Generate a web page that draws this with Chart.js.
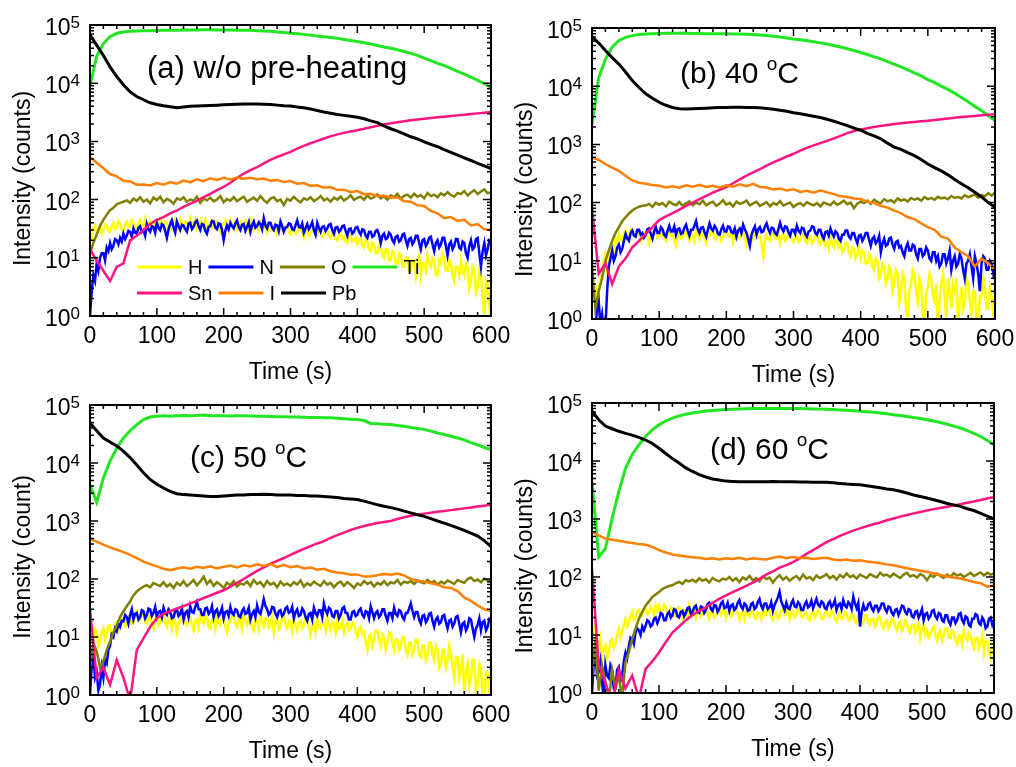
<!DOCTYPE html>
<html>
<head>
<meta charset="utf-8">
<script src="https://cdn.jsdelivr.net/npm/chart.js@4.4.1/dist/chart.umd.min.js"></script>
<style>
  body { margin: 0; background: #fff; }
  #figure { position: relative; width: 1016px; height: 767px; overflow: hidden; }
  #figure canvas { position: absolute; left: 0; top: 0; }
</style>
</head>
<body>
<div id="figure">
  <canvas id="panelA" width="1016" height="767"></canvas>
  <canvas id="panelB" width="1016" height="767"></canvas>
  <canvas id="panelC" width="1016" height="767"></canvas>
  <canvas id="panelD" width="1016" height="767"></canvas>
</div>
<script>
// sputter time grids (s)
const TIME_10 = [
  0, 10, 20, 30, 40, 50, 60, 70, 80, 90,
  100, 110, 120, 130, 140, 150, 160, 170, 180, 190,
  200, 210, 220, 230, 240, 250, 260, 270, 280, 290,
  300, 310, 320, 330, 340, 350, 360, 370, 380, 390,
  400, 410, 420, 430, 440, 450, 460, 470, 480, 490,
  500, 510, 520, 530, 540, 550, 560, 570, 580, 590,
  600
];
const TIME_5 = [
  0, 5, 10, 15, 20, 25, 30, 35, 40, 45,
  50, 55, 60, 65, 70, 75, 80, 85, 90, 95,
  100, 105, 110, 115, 120, 125, 130, 135, 140, 145,
  150, 155, 160, 165, 170, 175, 180, 185, 190, 195,
  200, 205, 210, 215, 220, 225, 230, 235, 240, 245,
  250, 255, 260, 265, 270, 275, 280, 285, 290, 295,
  300, 305, 310, 315, 320, 325, 330, 335, 340, 345,
  350, 355, 360, 365, 370, 375, 380, 385, 390, 395,
  400, 405, 410, 415, 420, 425, 430, 435, 440, 445,
  450, 455, 460, 465, 470, 475, 480, 485, 490, 495,
  500, 505, 510, 515, 520, 525, 530, 535, 540, 545,
  550, 555, 560, 565, 570, 575, 580, 585, 590, 595,
  600
];
const TIME_2 = [
  0, 2.5, 5, 7.5, 10, 12.5, 15, 17.5, 20, 22.5, 25, 27.5, 30, 32.5, 35, 37.5, 40, 42.5, 45, 47.5,
  50, 52.5, 55, 57.5, 60, 62.5, 65, 67.5, 70, 72.5, 75, 77.5, 80, 82.5, 85, 87.5, 90, 92.5, 95, 97.5,
  100, 102.5, 105, 107.5, 110, 112.5, 115, 117.5, 120, 122.5, 125, 127.5, 130, 132.5, 135, 137.5, 140, 142.5, 145, 147.5,
  150, 152.5, 155, 157.5, 160, 162.5, 165, 167.5, 170, 172.5, 175, 177.5, 180, 182.5, 185, 187.5, 190, 192.5, 195, 197.5,
  200, 202.5, 205, 207.5, 210, 212.5, 215, 217.5, 220, 222.5, 225, 227.5, 230, 232.5, 235, 237.5, 240, 242.5, 245, 247.5,
  250, 252.5, 255, 257.5, 260, 262.5, 265, 267.5, 270, 272.5, 275, 277.5, 280, 282.5, 285, 287.5, 290, 292.5, 295, 297.5,
  300, 302.5, 305, 307.5, 310, 312.5, 315, 317.5, 320, 322.5, 325, 327.5, 330, 332.5, 335, 337.5, 340, 342.5, 345, 347.5,
  350, 352.5, 355, 357.5, 360, 362.5, 365, 367.5, 370, 372.5, 375, 377.5, 380, 382.5, 385, 387.5, 390, 392.5, 395, 397.5,
  400, 402.5, 405, 407.5, 410, 412.5, 415, 417.5, 420, 422.5, 425, 427.5, 430, 432.5, 435, 437.5, 440, 442.5, 445, 447.5,
  450, 452.5, 455, 457.5, 460, 462.5, 465, 467.5, 470, 472.5, 475, 477.5, 480, 482.5, 485, 487.5, 490, 492.5, 495, 497.5,
  500, 502.5, 505, 507.5, 510, 512.5, 515, 517.5, 520, 522.5, 525, 527.5, 530, 532.5, 535, 537.5, 540, 542.5, 545, 547.5,
  550, 552.5, 555, 557.5, 560, 562.5, 565, 567.5, 570, 572.5, 575, 577.5, 580, 582.5, 585, 587.5, 590, 592.5, 595, 597.5,
  600
];

const X_TICKS = [0, 100, 200, 300, 400, 500, 600];
const Y_EXPONENTS = [0, 1, 2, 3, 4, 5];
const SERIES_NAMES = ['H', 'N', 'O', 'Ti', 'Sn', 'I', 'Pb'];
const SERIES_COLORS = ['#ffff00', '#0000ff', '#808000', '#22e622', '#ff1480', '#ff8000', '#000000'];

// ---- (a) w/o pre-heating ----
const A_H = [
  28, 22, 32, 36, 25, 30, 35, 26, 30, 38, 36, 29, 28, 34, 40, 31, 33, 42, 38, 30,
  30, 37, 42, 33, 35, 44, 40, 31, 32, 38, 44, 35, 36, 46, 30, 39, 42, 33, 35, 41,
  40, 34, 45, 38, 33, 42, 38, 29, 30, 37, 42, 48, 36, 31, 46, 38, 34, 41, 40, 33,
  48, 39, 36, 44, 32, 37, 44, 35, 38, 45, 30, 36, 40, 32, 35, 43, 42, 33, 28, 36,
  38, 44, 33, 28, 44, 37, 36, 42, 30, 35, 41, 33, 35, 43, 38, 31, 45, 36, 30, 38,
  36, 30, 40, 34, 33, 39, 28, 35, 38, 30, 32, 37, 26, 31, 36, 29, 30, 35, 34, 27,
  25, 31, 32, 26, 28, 33, 34, 27, 22, 28, 30, 24, 26, 31, 32, 25, 24, 30, 29, 23,
  25, 29, 30, 24, 22, 27, 27, 21, 20, 25, 26, 21, 23, 19, 18, 23, 24, 19, 20, 22,
  17, 20, 22, 16, 15, 20, 19, 14, 13, 18, 17, 12, 12, 16, 15, 11, 10, 14, 14, 9,
  9, 13, 12, 8, 8, 12, 11, 7, 7, 10, 10, 6, 6, 9, 9, 5, 8, 11, 5, 8,
  8, 6, 11, 8, 7, 10, 9, 5, 5, 9, 8, 12, 10, 6, 6, 9, 8, 5, 4, 7,
  7, 5, 9, 6, 5, 8, 7, 3, 4, 7, 6, 2.5, 3, 6, 5, 2, 1, 4, 3.5, 1.5,
  2.5
];
const A_N = [
  1, 2.5, 5, 4, 8, 6, 10, 12, 12, 9, 15, 13, 18, 14, 16, 21, 20, 17, 22, 19,
  26, 21, 24, 29, 28, 23, 32, 27, 26, 33, 35, 28, 30, 24, 38, 31, 28, 35, 34, 27,
  40, 33, 30, 38, 36, 29, 22, 31, 38, 44, 33, 27, 42, 35, 30, 37, 36, 31, 28, 39,
  40, 31, 34, 41, 44, 35, 30, 38, 37, 29, 26, 34, 35, 43, 42, 33, 31, 39, 38, 30,
  20, 29, 36, 31, 40, 35, 32, 39, 44, 34, 30, 37, 38, 29, 34, 41, 28, 36, 42, 33,
  35, 41, 38, 31, 48, 36, 32, 40, 40, 33, 30, 37, 36, 29, 42, 35, 28, 33, 34, 39,
  38, 31, 30, 36, 44, 34, 33, 39, 27, 32, 38, 31, 35, 41, 30, 25, 40, 33, 28, 34,
  35, 29, 32, 37, 38, 30, 26, 33, 34, 28, 30, 35, 36, 29, 24, 31, 32, 26, 28, 33,
  34, 28, 25, 31, 30, 24, 22, 28, 28, 23, 24, 29, 30, 25, 18, 24, 26, 21, 22, 27,
  25, 20, 18, 23, 24, 19, 20, 25, 26, 20, 16, 21, 22, 17, 19, 24, 24, 18, 14, 20,
  21, 16, 18, 22, 23, 17, 13, 18, 20, 15, 17, 22, 22, 16, 11, 17, 19, 14, 16, 21,
  21, 15, 14, 19, 18, 12, 10, 16, 20, 14, 15, 21, 22, 12, 7, 13, 18, 11, 14, 20,
  19
];
const A_O = [
  12, 18, 25, 35, 45, 55, 66, 72, 83, 88,
  92, 97, 88, 104, 95, 110, 92, 100, 86, 108,
  98, 112, 90, 103, 96, 85, 105, 99, 110, 92,
  101, 95, 112, 88, 104, 97, 108, 93, 100, 115,
  90, 102, 96, 110, 94, 103, 112, 92, 100, 108,
  95, 115, 98, 88, 104, 110, 94, 100, 80, 103,
  96, 112, 98, 90, 105, 99, 110, 94, 102, 115,
  97, 104, 92, 108, 100, 113, 96, 105, 118, 99,
  107, 112, 100, 118, 104, 110, 122, 105, 114, 100,
  118, 110, 125, 104, 116, 122, 108, 126, 112, 120,
  105, 130, 115, 122, 110, 128, 118, 134, 120, 112,
  130, 124, 140, 118, 132, 145, 125, 138, 150, 128,
  135
];
const A_TI = [
  9000, 29000, 48000, 63000, 72000, 76000, 78000, 79000, 80000, 80000,
  80500, 81000, 81000, 81500, 82000, 82000, 82000, 82500, 82500, 82000,
  82000, 82000, 81500, 81000, 81000, 80000, 79000, 78000, 76000, 74000,
  72000, 70500, 69000, 67000, 65000, 63000, 61000, 59000, 56500, 54000,
  52000, 49500, 47000, 44500, 42000, 40000, 37500, 35000, 32500, 30000,
  27000, 24500, 22000, 20000, 18000, 16000, 14300, 12700, 11200, 9800,
  8500
];
const A_SN = [
  14, 9, 6, 4, 7, 8, 20, 24, 30, 38,
  45, 50, 58, 65, 75, 85, 95, 110, 125, 145,
  165, 195, 235, 280, 320, 360, 420, 480, 540, 600,
  660, 750, 840, 930, 1020, 1120, 1220, 1320, 1400, 1480,
  1550, 1650, 1750, 1850, 1950, 2050, 2130, 2220, 2300, 2380,
  2450, 2520, 2590, 2660, 2730, 2800, 2880, 2950, 3030, 3110,
  3200
];
const A_I = [
  540, 430, 345, 275, 250, 210, 205, 180, 182, 175,
  192, 180, 200, 188, 212, 198, 224, 208, 232, 218,
  236, 222, 240, 228, 238, 224, 230, 212, 218, 200,
  208, 188, 192, 172, 176, 160, 164, 146, 148, 134,
  140, 124, 126, 114, 118, 108, 110, 94, 92, 80,
  78, 64, 58, 48, 50, 43, 45, 36, 38, 31,
  30
];
const A_PB = [
  67000, 45000, 30000, 19000, 13000, 9400, 7100, 5900, 5200, 4600,
  4300, 4100, 3950, 3800, 3900, 4000, 4050, 4100, 4150, 4200,
  4250, 4300, 4350, 4400, 4400, 4400, 4350, 4300, 4200, 4100,
  4050, 3900, 3800, 3600, 3400, 3200, 3050, 2900, 2800, 2700,
  2600, 2450, 2250, 2100, 1850, 1650, 1500, 1350, 1200, 1100,
  980, 890, 810, 720, 650, 580, 520, 470, 420, 380,
  340
];

// ---- (b) 40 °C ----
const B_H = [
  8, 2, 4, 1.5, 3, 5, 6, 10, 13, 7, 9, 15, 18, 14, 24, 20, 29, 24, 22, 30,
  33, 25, 28, 35, 34, 27, 26, 31, 30, 22, 24, 30, 32, 26, 20, 27, 28, 34, 33, 25,
  26, 32, 30, 24, 22, 29, 34, 27, 28, 22, 18, 26, 30, 24, 25, 31, 32, 26, 22, 28,
  28, 22, 34, 28, 24, 31, 30, 24, 20, 27, 27, 33, 32, 25, 23, 29, 29, 22, 25, 31,
  34, 27, 26, 31, 21, 27, 30, 24, 25, 31, 32, 25, 19, 26, 28, 22, 24, 30, 31, 25,
  26, 20, 12, 22, 28, 23, 22, 29, 30, 24, 25, 31, 20, 26, 28, 22, 24, 29, 30, 23,
  21, 26, 27, 21, 23, 28, 29, 22, 20, 25, 26, 20, 22, 27, 28, 21, 19, 24, 24, 18,
  21, 16, 26, 20, 17, 22, 22, 17, 19, 14, 15, 20, 20, 14, 12, 17, 16, 11, 13, 17,
  11, 15, 14, 9, 9, 13, 12, 8, 7, 11, 10, 5, 6, 9, 8, 4, 5, 8, 7, 3,
  4, 7, 6, 2, 3, 6, 5, 1.5, 0.8, 3, 4, 7, 6, 3, 2, 5, 4, 1.2, 0.8, 3,
  3.5, 6, 5, 2.5, 2, 4, 0.7, 2, 4, 6, 2.5, 1, 5, 3, 1.5, 4, 3, 5, 0.8, 2,
  3.5, 1.5, 2, 5, 4, 2, 1.2, 3, 3, 1, 0.7, 2.5, 2.5, 5, 3.5, 1.5, 1.5, 3.5, 2.5, 1.2,
  2
];
const B_N = [
  1, 0.5, 0.6, 1.5, 2, 0.8, 1.2, 0.6, 0.7, 3, 8, 11, 15, 10, 12, 17, 19, 14, 16, 22,
  29, 24, 22, 30, 33, 27, 26, 34, 34, 28, 30, 25, 28, 35, 36, 29, 24, 32, 38, 30,
  30, 38, 35, 28, 26, 33, 40, 32, 32, 39, 28, 35, 36, 29, 30, 37, 42, 33, 27, 34,
  34, 40, 48, 35, 30, 37, 38, 31, 26, 34, 44, 36, 33, 40, 36, 29, 28, 35, 40, 32,
  32, 39, 38, 31, 30, 36, 26, 33, 36, 30, 42, 35, 30, 24, 18, 28, 34, 39, 28, 35,
  38, 31, 32, 39, 44, 35, 30, 37, 36, 30, 28, 35, 45, 36, 32, 39, 38, 31, 27, 34,
  34, 29, 40, 33, 30, 37, 36, 29, 26, 32, 33, 39, 38, 30, 28, 34, 34, 27, 24, 31,
  32, 27, 36, 30, 26, 32, 30, 24, 22, 28, 28, 33, 33, 26, 24, 30, 30, 24, 20, 27,
  28, 22, 25, 30, 30, 23, 18, 24, 26, 20, 22, 27, 14, 20, 24, 18, 19, 24, 25, 19,
  16, 21, 22, 17, 18, 14, 12, 17, 20, 15, 15, 19, 18, 13, 11, 16, 16, 12, 13, 17,
  15, 11, 10, 14, 14, 10, 12, 8, 9, 13, 13, 9, 11, 15, 7, 10, 12, 8, 9, 13,
  11, 7, 5, 9, 10, 13, 8, 5, 12, 9, 6, 3, 9, 12, 11, 7, 7, 10, 9, 6,
  8
];
const B_O = [
  8, 1.5, 3, 5, 10, 15, 22, 30, 38, 48,
  56, 65, 73, 80, 85, 88, 89, 95, 84, 100,
  92, 98, 86, 104, 95, 90, 102, 88, 97, 105,
  90, 100, 94, 108, 90, 98, 103, 88, 96, 110,
  92, 99, 86, 104, 95, 100, 108, 90, 97, 103,
  88, 94, 102, 86, 98, 92, 106, 89, 95, 100,
  84, 93, 98, 88, 102, 94, 90, 98, 86, 100,
  95, 90, 104, 92, 98, 108, 94, 100, 80, 96,
  104, 98, 108, 95, 112, 102, 98, 115, 105, 110,
  100, 118, 108, 114, 104, 120, 112, 118, 108, 124,
  115, 120, 112, 126, 118, 122, 114, 130, 120, 126,
  118, 134, 124, 130, 138, 122, 135, 128, 145, 132,
  150
];
const B_TI = [
  2200, 14000, 29000, 47000, 61000, 69000, 74000, 77000, 79000, 80000,
  80500, 81000, 81000, 81000, 81000, 80500, 80500, 80000, 80000, 80000,
  79500, 79000, 78500, 78000, 77000, 76000, 74000, 72000, 70000, 67500,
  65000, 63000, 60500, 58000, 55500, 53000, 50000, 47000, 44000, 41000,
  38000, 35000, 32000, 29500, 26500, 24000, 21500, 19000, 17000, 15000,
  13000, 11500, 10000, 8800, 7600, 6400, 5400, 4500, 3800, 3100,
  2600
];
const B_SN = [
  80, 6, 9, 4, 8, 11, 17, 22, 29, 38,
  50, 58, 66, 76, 88, 100, 115, 130, 148, 165,
  185, 215, 250, 290, 330, 375, 430, 490, 550, 620,
  690, 780, 870, 960, 1050, 1150, 1270, 1400, 1560, 1700,
  1800, 1900, 1990, 2080, 2160, 2250, 2310, 2370, 2430, 2490,
  2550, 2630, 2710, 2790, 2870, 2950, 3020, 3090, 3160, 3230,
  3300
];
const B_I = [
  600, 540, 460, 400, 350, 290, 240, 220, 210, 200,
  195, 182, 190, 180, 198, 188, 202, 186, 195, 180,
  198, 188, 206, 192, 210, 186, 182, 168, 175, 162,
  170, 152, 160, 148, 162, 150, 140, 128, 125, 118,
  115, 104, 98, 88, 82, 73, 66, 56, 52, 44,
  38, 34, 26, 24, 17, 14, 12, 8, 11, 9,
  7
];
const B_PB = [
  71000, 55000, 41000, 31000, 24000, 17500, 12500, 9500, 7400, 6200,
  5300, 4700, 4300, 4100, 4050, 4100, 4150, 4200, 4250, 4300,
  4300, 4350, 4350, 4300, 4300, 4250, 4150, 4000, 3850, 3700,
  3500, 3350, 3200, 3050, 2900, 2700, 2500, 2300, 2100, 1900,
  1750, 1550, 1400, 1250, 1050, 900, 820, 720, 640, 550,
  460, 400, 350, 300, 250, 210, 180, 150, 125, 100,
  83
];

// ---- (c) 50 °C ----
const C_H = [
  16, 11, 10, 14, 12.6, 7, 8, 12, 14, 9, 11, 16, 16, 10, 12, 17, 18, 13, 15, 20,
  21, 15, 16, 22, 24, 17, 18, 25, 28, 19, 20, 27, 26, 18, 17, 23, 24, 16, 14, 21,
  22, 16, 18, 25, 26, 18, 15, 21, 20, 14, 24, 18, 12, 17, 19, 26, 25, 17, 16, 22,
  22, 16, 13, 19, 20, 15, 26, 19, 17, 23, 22, 15, 14, 20, 20, 14, 25, 18, 16, 22,
  21, 15, 12, 18, 18, 24, 24, 17, 15, 21, 20, 14, 26, 19, 16, 22, 22, 15, 13, 19,
  19, 14, 25, 18, 15, 21, 21, 15, 17, 22, 12, 18, 20, 14, 16, 21, 23, 16, 14, 19,
  18, 13, 22, 16, 13, 18, 19, 14, 16, 21, 21, 15, 11, 16, 17, 12, 20, 15, 14, 19,
  18, 13, 22, 16, 13, 18, 17, 12, 20, 14, 15, 19, 12, 16, 18, 13, 14, 18, 17, 12,
  10, 14, 15, 11, 12, 8, 6, 10, 11, 7, 9, 13, 13, 9, 7, 11, 10, 6, 8, 12,
  12, 8, 6, 9, 9, 6, 7, 10, 10, 6, 5, 8, 8, 5, 6, 9, 9, 5, 4.5, 7,
  7, 4, 5, 8, 8, 5, 4, 7, 6, 3, 3.5, 6, 6, 3, 4, 7, 5, 3, 2, 4.5,
  4.5, 2, 3, 5, 1, 2.5, 3.5, 1.5, 2, 4, 4, 1.2, 1.5, 3.5, 3, 0.8, 0.7, 2.5, 2.5, 1,
  2
];
const C_N = [
  1, 3, 5, 2, 2.5, 1.2, 1.5, 3, 2, 4, 3.5, 6, 7, 11, 10, 14, 12.6, 17, 15, 19,
  18.6, 24, 22, 17, 24, 30, 20, 25, 26, 20, 22, 29, 28, 21, 24, 31, 30, 23, 26, 33,
  22, 27, 28, 22, 32, 26, 24, 30, 27, 21, 22, 28, 30, 23, 25, 31, 20, 26, 28, 22,
  34, 27, 26, 33, 40, 30, 30, 24, 24, 31, 32, 25, 27, 34, 22, 28, 30, 23, 26, 32,
  21, 27, 28, 23, 33, 26, 24, 30, 29, 23, 22, 28, 31, 25, 26, 32, 20, 25, 28, 22,
  35, 27, 25, 33, 45, 34, 30, 24, 26, 33, 32, 25, 22, 28, 29, 23, 25, 31, 33, 26,
  27, 33, 21, 27, 30, 23, 24, 31, 28, 22, 19, 25, 26, 20, 32, 26, 23, 29, 29, 22,
  38, 29, 25, 32, 30, 23, 22, 28, 28, 21, 24, 31, 33, 26, 26, 20, 20, 27, 28, 23,
  24, 29, 31, 24, 22, 28, 27, 21, 34, 27, 21, 26, 28, 22, 24, 30, 30, 23, 19, 26,
  26, 21, 32, 25, 23, 29, 28, 22, 20, 26, 26, 31, 38, 28, 22, 27, 27, 20, 17, 23,
  24, 18, 20, 25, 26, 19, 15, 20, 22, 17, 18, 23, 24, 18, 14, 19, 20, 15, 17, 22,
  23, 17, 12, 17, 18, 13, 15, 21, 20, 14, 10, 14, 16, 21, 13, 18, 19, 13, 15, 20,
  18
];
const C_O = [
  2.9, 8, 5.6, 3, 3.8, 6, 8.3, 12, 16, 22,
  28, 34, 41, 52, 61, 68, 74, 78, 72, 85,
  80, 76, 88, 74, 82, 70, 86, 78, 92, 75,
  84, 96, 78, 90, 110, 82, 95, 76, 88, 80,
  70, 86, 78, 92, 74, 84, 80, 90, 76, 96,
  82, 88, 74, 92, 80, 86, 72, 90, 78, 84,
  76, 88, 80, 94, 74, 85, 78, 90, 82, 76,
  92, 80, 86, 72, 84, 90, 76, 88, 80, 70,
  84, 78, 92, 82, 88, 74, 86, 80, 92, 78,
  88, 84, 96, 80, 90, 86, 92, 82, 94, 88,
  84, 96, 86, 92, 80, 90, 84, 94, 88, 82,
  96, 90, 86, 100, 106, 92, 98, 88, 102, 94,
  90
];
const C_TI = [
  4300, 2100, 5500, 10800, 18000, 27000, 36000, 46000, 56000, 62000,
  64000, 65000, 64000, 65500, 66000, 65000, 66000, 67500, 65000, 65500,
  65000, 64500, 65000, 65000, 64500, 64000, 64000, 63500, 63000, 62500,
  62000, 62000, 61500, 61000, 61000, 60500, 60000, 59000, 58000, 57000,
  56000, 54000, 48000, 47500, 46500, 46000, 44500, 43000, 41000, 39500,
  38000, 35500, 33000, 31000, 29000, 27000, 25000, 22500, 20500, 18500,
  17000
];
const C_SN = [
  30, 2, 3, 1.5, 4, 2, 0.8, 6, 9.5, 15,
  21, 25, 28, 31, 34, 38, 42, 47, 52, 58,
  64, 74, 86, 100, 118, 138, 158, 182, 205, 230,
  260, 295, 330, 370, 410, 450, 510, 570, 630, 700,
  760, 820, 870, 920, 960, 1000, 1080, 1160, 1230, 1290,
  1340, 1390, 1440, 1490, 1540, 1590, 1650, 1710, 1780, 1840,
  1900
];
const C_I = [
  480, 440, 390, 350, 320, 290, 260, 230, 200, 180,
  165, 150, 142, 152, 160, 150, 162, 155, 165, 152,
  162, 170, 158, 172, 165, 180, 168, 182, 160, 175,
  160, 168, 152, 158, 145, 150, 136, 130, 126, 118,
  120, 110, 112, 116, 122, 118, 124, 115, 100, 94,
  90, 84, 80, 72, 70, 62, 48, 42, 35, 30,
  28
];
const C_PB = [
  49000, 36000, 27000, 23000, 19600, 16000, 12400, 9200, 6800, 5200,
  4300, 3700, 3250, 2950, 2850, 2800, 2750, 2700, 2650, 2650,
  2700, 2750, 2800, 2800, 2850, 2850, 2900, 2850, 2800, 2800,
  2800, 2750, 2750, 2700, 2700, 2650, 2600, 2550, 2450, 2400,
  2350, 2200, 2050, 1900, 1800, 1700, 1600, 1480, 1380, 1280,
  1200, 1100, 1000, 920, 840, 760, 690, 620, 550, 460,
  360
];

// ---- (d) 60 °C ----
const D_H = [
  10, 13, 7, 5, 6.6, 9, 4, 6, 6.6, 4, 5, 8, 8.5, 6, 7, 10, 13, 9, 11, 15,
  19, 14, 16, 22, 25, 18, 20, 26, 27, 21, 22, 29, 30, 23, 24, 31, 28, 22, 33, 26,
  32, 25, 26, 33, 30, 23, 24, 30, 28, 21, 22, 29, 30, 24, 20, 27, 26, 20, 32, 25,
  24, 30, 20, 26, 28, 21, 23, 29, 30, 23, 19, 25, 26, 20, 22, 28, 29, 22, 24, 30,
  20, 25, 27, 21, 23, 29, 30, 23, 18, 24, 25, 19, 28, 22, 21, 27, 26, 20, 19, 25,
  24, 19, 29, 23, 22, 28, 26, 20, 18, 24, 25, 19, 21, 27, 28, 22, 23, 29, 19, 24,
  26, 20, 22, 27, 28, 21, 20, 25, 24, 19, 18, 23, 26, 20, 22, 27, 25, 19, 19, 24,
  27, 21, 21, 26, 24, 19, 17, 22, 25, 19, 20, 25, 23, 18, 18, 23, 22, 17, 16, 21,
  20, 15, 17, 22, 22, 16, 15, 19, 19, 14, 16, 21, 20, 15, 13, 17, 18, 13, 15, 19,
  18, 14, 12, 16, 17, 12, 14, 18, 16, 12, 11, 15, 15, 11, 13, 17, 9, 13, 14, 10,
  12, 9, 10, 13, 14, 10, 8, 11, 12, 8, 10, 13, 13, 9, 9, 12, 11, 8, 7, 10,
  10, 7, 12, 9, 8, 11, 10, 7, 6, 9, 9, 6, 7.5, 10, 5, 8, 8, 5, 4, 6.5,
  7.5
];
const D_N = [
  1, 3, 5, 2, 2.3, 3.5, 1.5, 0.8, 3, 2, 1.8, 3, 2.5, 1.2, 1.2, 2.5, 2.8, 1.6, 2, 3.5,
  5, 4, 6.5, 9, 8.5, 7, 11, 13, 12, 10, 14, 12, 14.5, 18, 17, 14, 15, 19, 20, 16,
  19, 24, 23, 18, 18, 23, 25, 20, 22, 28, 27, 21, 20, 25, 26, 21, 24, 29, 30, 23,
  25, 30, 32, 25, 24, 31, 30, 24, 27, 34, 36, 28, 26, 33, 32, 25, 28, 35, 38, 29,
  30, 36, 26, 32, 34, 27, 29, 36, 40, 31, 28, 35, 33, 26, 27, 34, 36, 28, 30, 37,
  42, 32, 28, 35, 35, 28, 30, 37, 26, 33, 38, 45, 56, 38, 32, 27, 36, 29, 28, 35,
  40, 31, 30, 37, 34, 27, 27, 34, 38, 30, 32, 39, 29, 35, 42, 33, 31, 38, 36, 29,
  28, 35, 38, 30, 33, 40, 27, 33, 35, 28, 40, 32, 30, 37, 34, 28, 46, 35, 29, 36,
  14, 25, 33, 27, 28, 34, 36, 29, 26, 32, 32, 26, 29, 35, 35, 28, 25, 31, 30, 24,
  22, 27, 28, 22, 26, 32, 31, 25, 23, 28, 27, 21, 20, 25, 26, 20, 23, 28, 18, 23,
  24, 19, 21, 26, 27, 21, 19, 24, 23, 18, 17, 22, 22, 17, 15, 20, 20, 16, 18, 23,
  24, 18, 16, 21, 20, 15, 14, 19, 19, 23, 22, 16, 15, 20, 18, 13, 14, 19, 20, 15,
  18
];
const D_O = [
  2, 8, 1.1, 3, 1.6, 0.7, 2.5, 1.2, 2, 0.8,
  3.4, 5, 8.5, 13, 19, 25, 32, 38, 45, 50,
  55, 62, 66, 70, 72, 78, 82, 76, 88, 84,
  90, 82, 95, 86, 92, 80, 96, 88, 84, 94,
  90, 100, 86, 95, 82, 98, 90, 104, 88, 96,
  84, 102, 92, 98, 80, 95, 108, 90, 100, 86,
  96, 104, 90, 110, 94, 100, 88, 106, 96, 102,
  112, 95, 104, 90, 108, 98, 115, 100, 106, 94,
  110, 102, 96, 112, 104, 98, 118, 106, 110, 100,
  114, 104, 96, 110, 118, 102, 108, 98, 112, 104,
  88, 108, 100, 114, 104, 96, 110, 100, 116, 106,
  112, 100, 108, 118, 104, 112, 120, 106, 118, 110,
  115
];
const D_TI = [
  4400, 220, 310, 1020, 2950, 7500, 13000, 19000, 26500, 34500,
  42000, 49000, 55000, 60000, 64000, 67000, 70000, 72500, 74500, 76000,
  77000, 78000, 79000, 79500, 80000, 80000, 80500, 80500, 80500, 80000,
  80000, 80000, 79500, 79000, 78500, 78000, 77000, 76000, 75000, 73500,
  72000, 70500, 69000, 67000, 65000, 63000, 61000, 58500, 56000, 54000,
  51500, 49000, 46000, 43000, 40000, 37000, 33500, 30000, 26500, 22500,
  19000
];
const D_SN = [
  140, 3, 1.5, 0.7, 2.5, 1.2, 2, 0.8, 2.6, 3.5,
  5, 7.5, 11, 14, 18, 22, 26, 30, 36, 42,
  48, 55, 62, 70, 80, 93, 110, 125, 145, 160,
  180, 210, 250, 290, 340, 400, 450, 510, 570, 630,
  690, 750, 810, 870, 950, 1020, 1100, 1170, 1250, 1320,
  1400, 1480, 1550, 1630, 1710, 1800, 1900, 2000, 2130, 2260,
  2400
];
const D_I = [
  600, 520, 460, 440, 420, 400, 385, 370, 360, 330,
  290, 265, 245, 235, 225, 220, 215, 205, 210, 200,
  210, 205, 215, 200, 210, 205, 200, 215, 225, 210,
  220, 210, 215, 205, 210, 215, 200, 195, 200, 190,
  195, 185, 180, 172, 165, 160, 150, 142, 135, 128,
  123, 115, 108, 102, 98, 94, 88, 82, 78, 68,
  72
];
const D_PB = [
  72000, 51500, 40000, 36000, 32500, 30000, 28000, 25500, 23000, 20000,
  16600, 13500, 11000, 9200, 7600, 6600, 5800, 5300, 4900, 4700,
  4500, 4450, 4400, 4400, 4400, 4400, 4400, 4450, 4400, 4400,
  4400, 4350, 4350, 4300, 4300, 4300, 4200, 4100, 4000, 3950,
  3900, 3750, 3600, 3450, 3300, 3200, 3000, 2800, 2600, 2450,
  2300, 2150, 2000, 1850, 1750, 1650, 1500, 1400, 1250, 1120,
  1000
];

const FONT = '"Liberation Sans", Arial, sans-serif';

// text runs with per-run size and baseline rise (for superscripts)
function measureRuns(ctx, runs) {
  let w = 0;
  runs.forEach(r => {
    ctx.font = `${r.size}px ${FONT}`;
    w += ctx.measureText(r.text).width;
  });
  return w;
}

function drawRuns(ctx, runs, x, y) {
  let cx = x;
  runs.forEach(r => {
    ctx.font = `${r.size}px ${FONT}`;
    ctx.fillText(r.text, cx, y - (r.rise || 0));
    cx += ctx.measureText(r.text).width;
  });
}

// box, inward ticks, labels and the optional legend
const framePlugin = {
  id: 'frame',
  afterDraw(chart, args, opts) {
    const { ctx, chartArea: a } = chart;
    const xs = chart.scales.x;
    const ys = chart.scales.y;
    ctx.save();
    ctx.strokeStyle = '#000';
    ctx.fillStyle = '#000';

    ctx.lineWidth = 1.5;
    ctx.beginPath();
    for (let t = 0; t <= 600; t += 20) {
      const px = xs.getPixelForValue(t);
      const len = t % 100 === 0 ? 8 : 4;
      ctx.moveTo(px, a.bottom);
      ctx.lineTo(px, a.bottom - len);
      ctx.moveTo(px, a.top);
      ctx.lineTo(px, a.top + len);
    }
    Y_EXPONENTS.forEach(e => {
      for (let m = 1; m <= 9; m++) {
        if (e === 5 && m > 1) break;
        const py = ys.getPixelForValue(m * Math.pow(10, e));
        const len = m === 1 ? 8 : 4;
        ctx.moveTo(a.left, py);
        ctx.lineTo(a.left + len, py);
        ctx.moveTo(a.right, py);
        ctx.lineTo(a.right - len, py);
      }
    });
    ctx.stroke();

    ctx.lineWidth = 2;
    ctx.strokeRect(a.left, a.top, a.right - a.left, a.bottom - a.top);

    // tick labels
    ctx.font = `23px ${FONT}`;
    ctx.textAlign = 'center';
    ctx.textBaseline = 'middle';
    X_TICKS.forEach(t => ctx.fillText(String(t), xs.getPixelForValue(t), a.bottom + 21));

    ctx.textAlign = 'left';
    ctx.textBaseline = 'alphabetic';
    Y_EXPONENTS.forEach(e => {
      const py = ys.getPixelForValue(Math.pow(10, e));
      const runs = [{ text: '10', size: 23 }, { text: String(e), size: 17, rise: 7 }];
      drawRuns(ctx, runs, a.left - 10 - measureRuns(ctx, runs), py + 10);
    });

    // axis titles
    ctx.font = `23px ${FONT}`;
    ctx.textAlign = 'center';
    ctx.textBaseline = 'middle';
    ctx.fillText('Time (s)', (a.left + a.right) / 2, a.bottom + 57);
    ctx.save();
    ctx.translate(a.left - 66, (a.top + a.bottom) / 2 + opts.yTitleShift);
    ctx.rotate(-Math.PI / 2);
    ctx.fillText(opts.yTitle, 0, 0);
    ctx.restore();

    // panel label
    ctx.textAlign = 'left';
    ctx.textBaseline = 'alphabetic';
    drawRuns(ctx, opts.label, a.left + opts.labelAt[0], a.top + opts.labelAt[1]);

    if (opts.legendRows) {
      ctx.font = `20px ${FONT}`;
      ctx.textBaseline = 'middle';
      opts.legendRows.forEach((row, r) => {
        let lx = a.left + 47;
        const ly = a.top + 242 + r * 26;
        row.forEach(name => {
          const ds = chart.data.datasets.find(d => d.label === name);
          ctx.strokeStyle = ds.borderColor;
          ctx.lineWidth = 3;
          ctx.beginPath();
          ctx.moveTo(lx, ly);
          ctx.lineTo(lx + 45, ly);
          ctx.stroke();
          lx += 51;
          ctx.fillStyle = '#000';
          ctx.fillText(name, lx, ly + 1);
          lx += ctx.measureText(name).width + 6;
        });
      });
    }
    ctx.restore();
  }
};

function toPoints(times, values) {
  return values.map((v, i) => ({ x: times[i], y: v }));
}

function buildPanel(canvasId, series, padding, frame) {
  const datasets = series.map(([times, values], idx) => ({
    label: SERIES_NAMES[idx],
    data: toPoints(times, values),
    borderColor: SERIES_COLORS[idx],
    borderWidth: idx === 3 || idx === 6 ? 3 : 2.5,
    borderJoinStyle: 'miter',
    pointRadius: 0,
    tension: 0,
    fill: false,
    clip: 0,
    // later elements sit on top
    order: series.length - idx
  }));

  return new Chart(document.getElementById(canvasId), {
    type: 'line',
    data: { datasets },
    options: {
      responsive: false,
      animation: false,
      events: [],
      layout: { padding },
      plugins: {
        legend: { display: false },
        tooltip: { enabled: false },
        frame
      },
      scales: {
        x: { type: 'linear', min: 0, max: 600, display: false },
        y: { type: 'logarithmic', min: 1, max: 100000, display: false }
      }
    },
    plugins: [framePlugin]
  });
}

const degreeLabel = (prefix) => [
  { text: prefix, size: 30 },
  { text: 'o', size: 19, rise: 13 },
  { text: 'C', size: 30 }
];

buildPanel('panelA',
  [[TIME_2, A_H], [TIME_2, A_N], [TIME_5, A_O], [TIME_10, A_TI], [TIME_10, A_SN], [TIME_10, A_I], [TIME_10, A_PB]],
  { left: 90, top: 25, right: 525, bottom: 451 },
  {
    label: [{ text: '(a) w/o pre-heating', size: 31 }],
    labelAt: [57, 53],
    yTitle: 'Intensity (counts)',
    yTitleShift: 8,
    legendRows: [['H', 'N', 'O', 'Ti'], ['Sn', 'I', 'Pb']]
  });

buildPanel('panelB',
  [[TIME_2, B_H], [TIME_2, B_N], [TIME_5, B_O], [TIME_10, B_TI], [TIME_10, B_SN], [TIME_10, B_I], [TIME_10, B_PB]],
  { left: 592, top: 28, right: 21, bottom: 448 },
  {
    label: degreeLabel('(b) 40 '),
    labelAt: [88, 55],
    yTitle: 'Intensity (counts)',
    yTitleShift: 16
  });

buildPanel('panelC',
  [[TIME_2, C_H], [TIME_2, C_N], [TIME_5, C_O], [TIME_10, C_TI], [TIME_10, C_SN], [TIME_10, C_I], [TIME_10, C_PB]],
  { left: 90, top: 405, right: 525, bottom: 72 },
  {
    label: degreeLabel('(c) 50 '),
    labelAt: [100, 62],
    yTitle: 'Intensity (count)',
    yTitleShift: 7
  });

buildPanel('panelD',
  [[TIME_2, D_H], [TIME_2, D_N], [TIME_5, D_O], [TIME_10, D_TI], [TIME_10, D_SN], [TIME_10, D_I], [TIME_10, D_PB]],
  { left: 592, top: 403, right: 22, bottom: 74 },
  {
    label: degreeLabel('(d) 60 '),
    labelAt: [118, 56],
    yTitle: 'Intensity (counts)',
    yTitleShift: 18
  });
</script>
</body>
</html>
